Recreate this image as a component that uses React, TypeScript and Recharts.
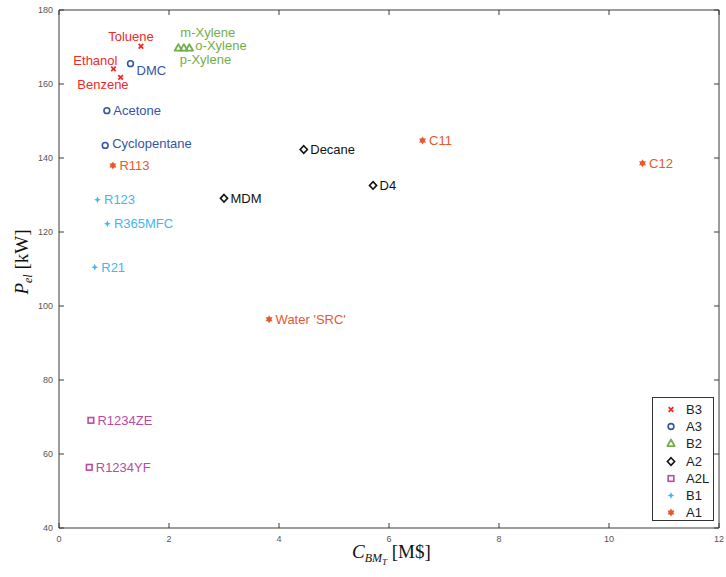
import React from "react";
import { ScatterChart, Scatter, XAxis, YAxis, Label, ReferenceLine } from "recharts";

type Fluid = { name: string; cost: number; power: number };

// safety classes, values (cost in M$, power in kW)
const B3: Fluid[] = [
  { name: "Toluene", cost: 1.49, power: 170.2 },
  { name: "Ethanol", cost: 0.99, power: 164.1 },
  { name: "Benzene", cost: 1.12, power: 161.8 },
];
const A3: Fluid[] = [
  { name: "DMC", cost: 1.3, power: 165.5 },
  { name: "Acetone", cost: 0.87, power: 152.8 },
  { name: "Cyclopentane", cost: 0.84, power: 143.4 },
];
const B2: Fluid[] = [
  { name: "m-Xylene", cost: 2.17, power: 169.7 },
  { name: "p-Xylene", cost: 2.27, power: 169.7 },
  { name: "o-Xylene", cost: 2.37, power: 169.7 },
];
const A2: Fluid[] = [
  { name: "Decane", cost: 4.45, power: 142.3 },
  { name: "D4", cost: 5.71, power: 132.6 },
  { name: "MDM", cost: 3.0, power: 129.1 },
];
const A2L: Fluid[] = [
  { name: "R1234ZE", cost: 0.58, power: 69.1 },
  { name: "R1234YF", cost: 0.55, power: 56.4 },
];
const B1: Fluid[] = [
  { name: "R123", cost: 0.7, power: 128.7 },
  { name: "R365MFC", cost: 0.88, power: 122.2 },
  { name: "R21", cost: 0.65, power: 110.5 },
];
const A1: Fluid[] = [
  { name: "R113", cost: 0.98, power: 138.0 },
  { name: "C11", cost: 6.61, power: 144.7 },
  { name: "C12", cost: 10.61, power: 138.6 },
  { name: "Water 'SRC'", cost: 3.82, power: 96.4 },
];

const X_TICKS = [0, 2, 4, 6, 8, 10, 12];
const Y_TICKS = [40, 60, 80, 100, 120, 140, 160, 180];

type Kind = "B3" | "A3" | "B2" | "A2" | "A2L" | "B1" | "A1";

const CLASSES: { kind: Kind; data: Fluid[] }[] = [
  { kind: "B3", data: B3 },
  { kind: "A3", data: A3 },
  { kind: "B2", data: B2 },
  { kind: "A2", data: A2 },
  { kind: "A2L", data: A2L },
  { kind: "B1", data: B1 },
  { kind: "A1", data: A1 },
];

const COLORS: Record<Kind, string> = {
  B3: "#ee2a2a",
  A3: "#3355a5",
  B2: "#72ae4a",
  A2: "#111111",
  A2L: "#bb4aa0",
  B1: "#43b6ec",
  A1: "#e8582c",
};

// where each text label sits relative to its marker
const LABEL_PLACE: Record<string, { dx: number; dy: number; anchor: string }> = {
  Toluene: { dx: -10, dy: -10, anchor: "middle" },
  Ethanol: { dx: 4, dy: -8, anchor: "end" },
  Benzene: { dx: 8, dy: 7, anchor: "end" },
  DMC: { dx: 6, dy: 7, anchor: "start" },
  Cyclopentane: { dx: 7, dy: -2, anchor: "start" },
  "m-Xylene": { dx: 2, dy: -15.5, anchor: "start" },
  "o-Xylene": { dx: 6, dy: -2.5, anchor: "start" },
  "p-Xylene": { dx: -4, dy: 11.5, anchor: "start" },
};

const SANS = "'Liberation Sans', Arial, sans-serif";
const SERIF = "'Liberation Serif', 'Times New Roman', serif";

function Marker({ kind, x, y }: { kind: Kind; x: number; y: number }) {
  const c = COLORS[kind];
  switch (kind) {
    case "B3":
      return (
        <path
          d={`M${x - 2.3},${y - 2.3}L${x + 2.3},${y + 2.3}M${x - 2.3},${y + 2.3}L${x + 2.3},${y - 2.3}`}
          stroke={c}
          strokeWidth={1.8}
        />
      );
    case "A3":
      return <circle cx={x} cy={y} r={2.9} fill="#fff" stroke={c} strokeWidth={1.6} />;
    case "B2":
      return (
        <path
          d={`M${x},${y - 4}L${x + 3.7},${y + 2.6}L${x - 3.7},${y + 2.6}Z`}
          fill="none"
          stroke={c}
          strokeWidth={1.8}
          strokeLinejoin="round"
        />
      );
    case "A2":
      return (
        <path
          d={`M${x},${y - 3.8}L${x + 3.6},${y}L${x},${y + 3.8}L${x - 3.6},${y}Z`}
          fill="#fff"
          stroke={c}
          strokeWidth={1.6}
        />
      );
    case "A2L":
      return <rect x={x - 2.8} y={y - 2.8} width={5.6} height={5.6} fill="#fff" stroke={c} strokeWidth={1.6} />;
    case "B1":
      return (
        <path
          d={`M${x},${y - 3.4}L${x + 1},${y - 1}L${x + 3.4},${y}L${x + 1},${y + 1}L${x},${y + 3.4}L${x - 1},${y + 1}L${x - 3.4},${y}L${x - 1},${y - 1}Z`}
          fill={c}
        />
      );
    case "A1": {
      const r = 4;
      const up = [0, 1, 2].map((i) => {
        const a = -Math.PI / 2 + (i * 2 * Math.PI) / 3;
        return `${x + r * Math.cos(a)},${y + r * Math.sin(a)}`;
      });
      const down = [0, 1, 2].map((i) => {
        const a = Math.PI / 2 + (i * 2 * Math.PI) / 3;
        return `${x + r * Math.cos(a)},${y + r * Math.sin(a)}`;
      });
      return (
        <g fill={c}>
          <polygon points={up.join(" ")} />
          <polygon points={down.join(" ")} />
        </g>
      );
    }
  }
  return null;
}

const makeShape = (kind: Kind) => (props: any) => {
  const { cx, cy, payload } = props;
  if (cx == null || cy == null) return <g />;
  const place = LABEL_PLACE[payload.name] || { dx: 6.5, dy: 0, anchor: "start" };
  return (
    <g>
      <Marker kind={kind} x={cx} y={cy} />
      <text
        x={cx + place.dx}
        y={cy + place.dy}
        textAnchor={place.anchor as any}
        dominantBaseline="central"
        fontFamily={SANS}
        fontSize={13}
        fill={COLORS[kind]}
      >
        {payload.name}
      </text>
    </g>
  );
};

const xTitle = () => (
  <text x={352} y={558} fontFamily={SERIF} fontSize={19} fill="#111">
    <tspan fontStyle="italic">C</tspan>
    <tspan fontStyle="italic" fontSize={12} dy={4}>BM</tspan>
    <tspan fontStyle="italic" fontSize={9} dy={3}>T</tspan>
    <tspan dy={-7}> [M$]</tspan>
  </text>
);

const yTitle = () => (
  <text
    x={0}
    y={0}
    transform="translate(28,262) rotate(-90)"
    textAnchor="middle"
    fontFamily={SERIF}
    fontSize={19}
    fill="#111"
  >
    <tspan fontStyle="italic">P</tspan>
    <tspan fontStyle="italic" fontSize={12} dy={4}>el</tspan>
    <tspan dy={-4}> [kW]</tspan>
  </text>
);

const AXIS_COLOR = "#3a3a3a";
const TICK_STYLE = { fontSize: 9, fill: "#555", fontFamily: SANS };
// inward tick mark length, in axis units (about 5px)
const TICK_DX = 0.09;
const TICK_DY = 1.35;

function LegendBox() {
  return (
    <div
      style={{
        position: "absolute",
        left: 652,
        top: 397,
        width: 60,
        height: 122,
        border: "1px solid #333",
        background: "#fff",
        fontFamily: SANS,
        fontSize: 13,
        color: "#222",
      }}
    >
      {CLASSES.map((c, i) => (
        <div
          key={c.kind}
          style={{ position: "absolute", left: 0, top: 3 + i * 17.2, height: 17, display: "flex", alignItems: "center" }}
        >
          <svg width={30} height={17} style={{ display: "block" }}>
            <Marker kind={c.kind} x={18} y={8.5} />
          </svg>
          <span style={{ marginLeft: 3 }}>{c.kind}</span>
        </div>
      ))}
    </div>
  );
}

export default function App() {
  return (
    <div style={{ position: "absolute", left: 0, top: 0, width: 726, height: 577, background: "#fff" }}>
      <ScatterChart width={726} height={577} margin={{ top: 10, right: 7, bottom: 0, left: 0 }}>
        <XAxis
          type="number"
          dataKey="cost"
          domain={[0, 12]}
          ticks={X_TICKS}
          height={49}
          tickLine={false}
          tickSize={0}
          tickMargin={8}
          stroke={AXIS_COLOR}
          tick={TICK_STYLE}
          allowDataOverflow
        >
          <Label content={xTitle} />
        </XAxis>
        <YAxis
          type="number"
          dataKey="power"
          domain={[40, 180]}
          ticks={Y_TICKS}
          width={59}
          tickLine={false}
          tickSize={0}
          tickMargin={6}
          stroke={AXIS_COLOR}
          tick={TICK_STYLE}
          allowDataOverflow
        >
          <Label content={yTitle} />
        </YAxis>
        {/* top and right frame lines */}
        <XAxis xAxisId="top" type="number" orientation="top" mirror domain={[0, 12]} ticks={X_TICKS} tick={false} tickLine={false} height={1} stroke={AXIS_COLOR} />
        <YAxis yAxisId="right" type="number" orientation="right" mirror domain={[40, 180]} ticks={Y_TICKS} tick={false} tickLine={false} width={1} stroke={AXIS_COLOR} />
        {/* inward tick marks on all four sides */}
        {X_TICKS.map((t) => (
          <ReferenceLine key={`b${t}`} segment={[{ x: t, y: 40 }, { x: t, y: 40 + TICK_DY }]} stroke={AXIS_COLOR} />
        ))}
        {X_TICKS.map((t) => (
          <ReferenceLine key={`t${t}`} segment={[{ x: t, y: 180 }, { x: t, y: 180 - TICK_DY }]} stroke={AXIS_COLOR} />
        ))}
        {Y_TICKS.map((t) => (
          <ReferenceLine key={`l${t}`} segment={[{ x: 0, y: t }, { x: TICK_DX, y: t }]} stroke={AXIS_COLOR} />
        ))}
        {Y_TICKS.map((t) => (
          <ReferenceLine key={`r${t}`} segment={[{ x: 12, y: t }, { x: 12 - TICK_DX, y: t }]} stroke={AXIS_COLOR} />
        ))}
        {CLASSES.map((c) => (
          <Scatter
            key={c.kind}
            name={c.kind}
            data={c.data}
            fill={COLORS[c.kind]}
            shape={makeShape(c.kind)}
            isAnimationActive={false}
          />
        ))}
      </ScatterChart>
      <LegendBox />
    </div>
  );
}
